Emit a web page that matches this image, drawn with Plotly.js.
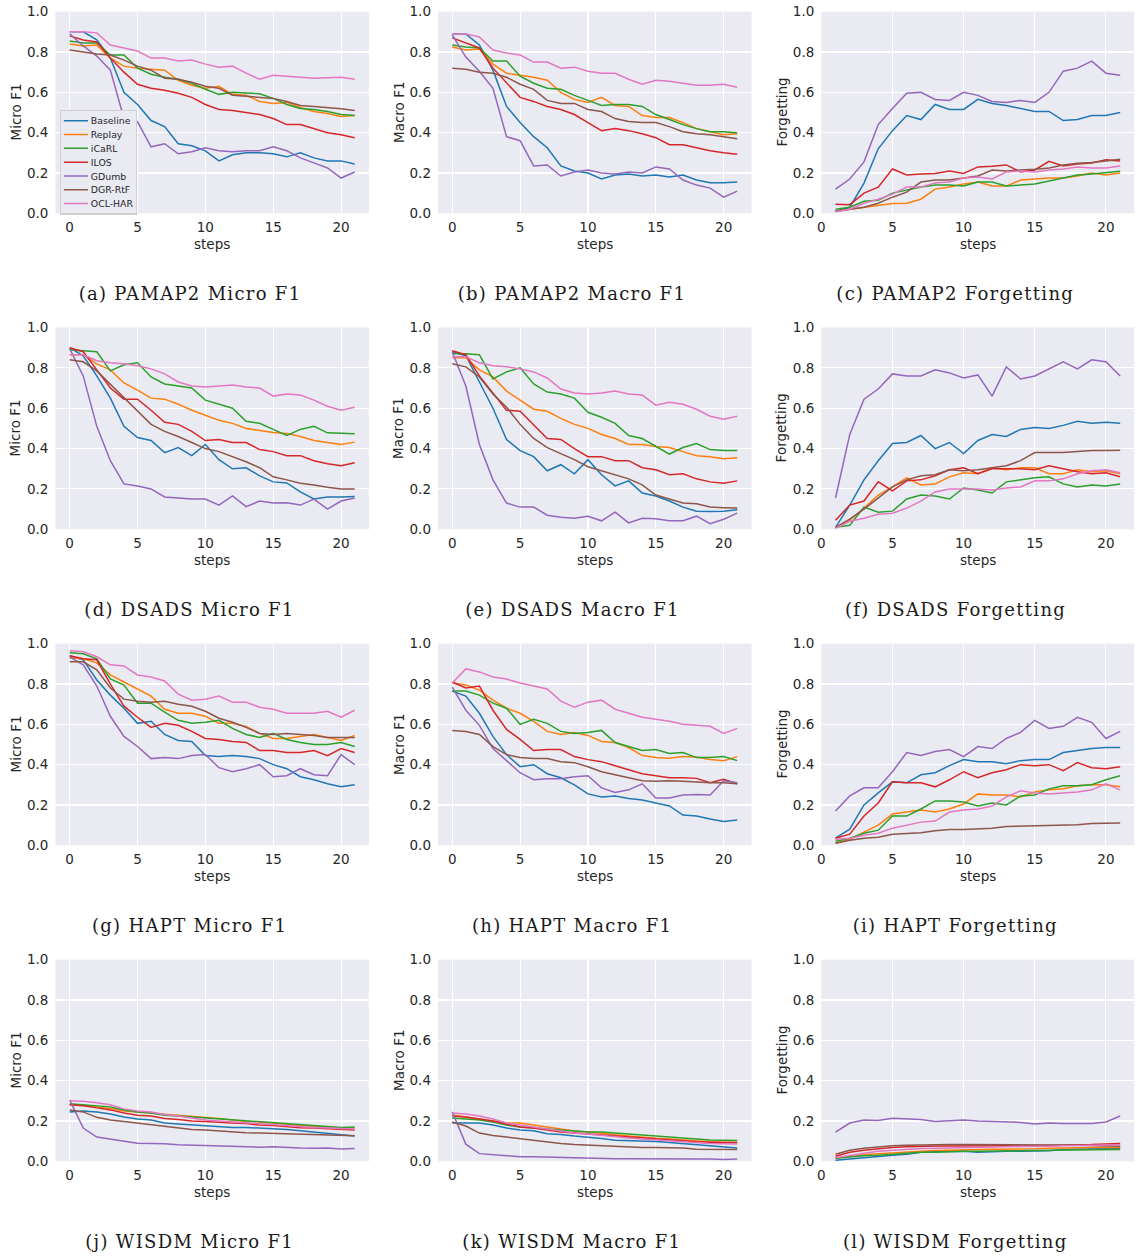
<!DOCTYPE html>
<html>
<head>
<meta charset="utf-8">
<script src="https://cdn.plot.ly/plotly-3.0.1.min.js"></script>
<style>html,body{margin:0;padding:0;background:#fff;}#chart{width:1137px;height:1259px;}</style>
</head>
<body>
<div id="chart"></div>
<script>
// ---------------- data ----------------
const methods = ['Baseline','Replay','iCaRL','ILOS','GDumb','DGR-RtF','OCL-HAR'];
const colors  = ['#1f77b4','#ff7f0e','#2ca02c','#d62728','#9467bd','#8c564b','#e377c2'];
const stepsF1 = [0,1,2,3,4,5,6,7,8,9,10,11,12,13,14,15,16,17,18,19,20,21];
const stepsForget = [1,2,3,4,5,6,7,8,9,10,11,12,13,14,15,16,17,18,19,20,21];
const yTicks = [0,0.2,0.4,0.6,0.8,1.0];
const xTicks = [0,5,10,15,20];
const yTitles = ['Micro F1','Macro F1','Forgetting'];
const captions = ['(a) PAMAP2 Micro F1','(b) PAMAP2 Macro F1','(c) PAMAP2 Forgetting',
                  '(d) DSADS Micro F1','(e) DSADS Macro F1','(f) DSADS Forgetting',
                  '(g) HAPT Micro F1','(h) HAPT Macro F1','(i) HAPT Forgetting',
                  '(j) WISDM Micro F1','(k) WISDM Macro F1','(l) WISDM Forgetting'];

// rows: Baseline, Replay, iCaRL, ILOS, GDumb, DGR-RtF, OCL-HAR
const PAMAP2_micro = [
 [0.90,0.90,0.86,0.77,0.60,0.54,0.46,0.43,0.345,0.335,0.31,0.26,0.29,0.30,0.30,0.295,0.28,0.30,0.275,0.26,0.26,0.245],
 [0.84,0.83,0.835,0.77,0.73,0.72,0.715,0.71,0.66,0.635,0.62,0.63,0.59,0.585,0.555,0.545,0.55,0.525,0.505,0.495,0.48,0.485],
 [0.855,0.845,0.845,0.785,0.785,0.72,0.69,0.675,0.665,0.645,0.615,0.59,0.60,0.598,0.593,0.57,0.54,0.52,0.515,0.505,0.49,0.485],
 [0.88,0.86,0.85,0.77,0.70,0.64,0.62,0.61,0.595,0.575,0.54,0.515,0.51,0.50,0.49,0.47,0.44,0.44,0.42,0.40,0.39,0.375],
 [0.89,0.83,0.78,0.71,0.47,0.455,0.33,0.345,0.295,0.305,0.325,0.31,0.305,0.31,0.31,0.33,0.31,0.275,0.25,0.225,0.175,0.205],
 [0.81,0.80,0.79,0.785,0.76,0.73,0.71,0.67,0.665,0.65,0.63,0.62,0.585,0.58,0.575,0.57,0.555,0.535,0.53,0.525,0.518,0.51],
 [0.90,0.90,0.895,0.835,0.82,0.805,0.77,0.77,0.755,0.76,0.74,0.725,0.73,0.695,0.665,0.685,0.68,0.675,0.67,0.672,0.675,0.665]
];
const PAMAP2_macro = [
 [0.89,0.89,0.835,0.71,0.53,0.45,0.38,0.325,0.235,0.21,0.20,0.17,0.19,0.195,0.185,0.19,0.18,0.19,0.165,0.152,0.152,0.155],
 [0.825,0.81,0.815,0.74,0.695,0.685,0.675,0.66,0.60,0.565,0.55,0.575,0.535,0.53,0.485,0.475,0.475,0.45,0.42,0.405,0.39,0.395],
 [0.835,0.825,0.82,0.755,0.755,0.68,0.645,0.62,0.615,0.585,0.56,0.535,0.54,0.54,0.53,0.49,0.465,0.44,0.42,0.405,0.405,0.398],
 [0.87,0.845,0.82,0.72,0.65,0.575,0.555,0.53,0.515,0.49,0.45,0.41,0.42,0.41,0.395,0.375,0.34,0.34,0.325,0.31,0.30,0.293],
 [0.885,0.775,0.705,0.62,0.38,0.36,0.235,0.24,0.185,0.205,0.215,0.20,0.195,0.205,0.20,0.23,0.22,0.165,0.14,0.125,0.08,0.11],
 [0.72,0.715,0.70,0.695,0.675,0.64,0.615,0.56,0.545,0.545,0.515,0.505,0.47,0.455,0.45,0.45,0.43,0.405,0.395,0.39,0.38,0.37],
 [0.89,0.89,0.875,0.81,0.795,0.785,0.75,0.75,0.72,0.725,0.705,0.695,0.695,0.665,0.64,0.66,0.655,0.645,0.635,0.635,0.64,0.625]
];
const PAMAP2_forget = [
 [0.01,0.03,0.15,0.32,0.41,0.485,0.465,0.54,0.515,0.515,0.565,0.545,0.535,0.52,0.505,0.505,0.46,0.465,0.485,0.485,0.50],
 [0.01,0.02,0.03,0.04,0.048,0.05,0.07,0.12,0.13,0.145,0.155,0.135,0.135,0.165,0.17,0.175,0.175,0.185,0.20,0.19,0.20],
 [0.02,0.03,0.06,0.065,0.10,0.115,0.13,0.14,0.14,0.135,0.155,0.155,0.135,0.14,0.145,0.16,0.175,0.19,0.195,0.20,0.208],
 [0.045,0.043,0.10,0.13,0.22,0.19,0.195,0.198,0.21,0.198,0.23,0.233,0.24,0.205,0.215,0.258,0.235,0.245,0.25,0.265,0.26],
 [0.12,0.17,0.255,0.44,0.52,0.595,0.60,0.565,0.56,0.60,0.585,0.555,0.55,0.56,0.55,0.60,0.705,0.72,0.755,0.695,0.685],
 [0.01,0.02,0.03,0.05,0.08,0.105,0.155,0.165,0.165,0.175,0.185,0.215,0.21,0.215,0.218,0.225,0.24,0.248,0.252,0.26,0.268],
 [0.008,0.02,0.05,0.07,0.095,0.13,0.13,0.15,0.155,0.175,0.18,0.17,0.205,0.21,0.205,0.215,0.22,0.23,0.225,0.225,0.235]
];
const DSADS_micro = [
 [0.90,0.86,0.76,0.65,0.51,0.455,0.44,0.38,0.405,0.365,0.42,0.345,0.30,0.305,0.265,0.235,0.23,0.185,0.15,0.16,0.16,0.162],
 [0.865,0.865,0.82,0.79,0.725,0.69,0.65,0.645,0.62,0.59,0.565,0.54,0.525,0.50,0.49,0.48,0.475,0.46,0.44,0.43,0.42,0.432],
 [0.89,0.885,0.88,0.785,0.815,0.825,0.755,0.72,0.71,0.70,0.64,0.62,0.60,0.535,0.525,0.495,0.465,0.495,0.51,0.478,0.475,0.474],
 [0.90,0.88,0.79,0.70,0.645,0.645,0.59,0.53,0.52,0.485,0.44,0.445,0.43,0.43,0.395,0.385,0.365,0.365,0.34,0.325,0.315,0.33],
 [0.895,0.76,0.51,0.34,0.225,0.215,0.20,0.16,0.155,0.15,0.15,0.12,0.165,0.112,0.14,0.13,0.132,0.12,0.15,0.10,0.14,0.155],
 [0.84,0.83,0.785,0.72,0.655,0.59,0.52,0.485,0.46,0.43,0.40,0.385,0.36,0.335,0.305,0.26,0.245,0.228,0.22,0.208,0.20,0.20],
 [0.865,0.865,0.835,0.825,0.82,0.81,0.795,0.77,0.73,0.71,0.705,0.71,0.715,0.705,0.70,0.66,0.67,0.665,0.64,0.61,0.59,0.605]
];
const DSADS_macro = [
 [0.88,0.86,0.73,0.60,0.445,0.39,0.36,0.29,0.32,0.275,0.345,0.27,0.215,0.24,0.18,0.165,0.14,0.11,0.09,0.088,0.09,0.097],
 [0.85,0.85,0.79,0.755,0.685,0.64,0.595,0.585,0.55,0.52,0.50,0.47,0.45,0.42,0.42,0.41,0.405,0.385,0.365,0.36,0.35,0.354],
 [0.87,0.87,0.865,0.745,0.78,0.80,0.72,0.68,0.67,0.65,0.58,0.555,0.525,0.465,0.45,0.41,0.373,0.405,0.425,0.395,0.39,0.39],
 [0.885,0.865,0.76,0.675,0.59,0.585,0.52,0.45,0.445,0.40,0.36,0.36,0.34,0.34,0.305,0.295,0.27,0.275,0.25,0.235,0.228,0.24],
 [0.88,0.71,0.42,0.245,0.13,0.11,0.11,0.07,0.06,0.055,0.065,0.042,0.085,0.032,0.055,0.052,0.042,0.042,0.065,0.028,0.05,0.08],
 [0.82,0.805,0.755,0.67,0.605,0.52,0.45,0.405,0.375,0.345,0.31,0.29,0.27,0.25,0.22,0.17,0.15,0.13,0.127,0.11,0.107,0.105],
 [0.855,0.855,0.825,0.81,0.805,0.795,0.78,0.75,0.695,0.675,0.67,0.675,0.685,0.67,0.665,0.615,0.63,0.62,0.595,0.56,0.545,0.56]
];
const DSADS_forget = [
 [0.01,0.12,0.245,0.34,0.425,0.43,0.465,0.40,0.43,0.375,0.44,0.47,0.46,0.495,0.505,0.50,0.515,0.535,0.525,0.53,0.525],
 [0.01,0.045,0.105,0.17,0.21,0.255,0.22,0.225,0.26,0.28,0.275,0.305,0.295,0.305,0.305,0.275,0.275,0.295,0.285,0.29,0.275],
 [0.01,0.02,0.11,0.085,0.09,0.15,0.17,0.165,0.15,0.205,0.195,0.18,0.235,0.245,0.255,0.26,0.225,0.21,0.22,0.215,0.225],
 [0.045,0.12,0.14,0.235,0.19,0.24,0.245,0.265,0.295,0.305,0.275,0.30,0.30,0.30,0.295,0.315,0.30,0.285,0.275,0.28,0.26],
 [0.155,0.47,0.645,0.695,0.77,0.76,0.76,0.79,0.775,0.75,0.765,0.66,0.805,0.745,0.76,0.795,0.83,0.795,0.84,0.83,0.76],
 [0.01,0.05,0.10,0.155,0.21,0.245,0.265,0.27,0.295,0.29,0.295,0.305,0.315,0.34,0.38,0.38,0.38,0.385,0.39,0.39,0.392],
 [0.005,0.04,0.055,0.075,0.08,0.105,0.14,0.185,0.20,0.20,0.20,0.195,0.205,0.21,0.24,0.24,0.25,0.275,0.29,0.295,0.28]
];
const HAPT_micro = [
 [0.94,0.92,0.82,0.745,0.68,0.605,0.615,0.55,0.52,0.515,0.445,0.44,0.445,0.44,0.43,0.40,0.38,0.34,0.325,0.305,0.29,0.30],
 [0.93,0.925,0.905,0.845,0.81,0.775,0.74,0.675,0.655,0.655,0.64,0.605,0.605,0.59,0.555,0.53,0.53,0.54,0.55,0.535,0.52,0.545],
 [0.955,0.95,0.925,0.825,0.795,0.705,0.705,0.66,0.62,0.605,0.61,0.62,0.58,0.55,0.535,0.555,0.525,0.51,0.50,0.50,0.51,0.49],
 [0.94,0.925,0.92,0.80,0.69,0.635,0.585,0.605,0.595,0.565,0.53,0.525,0.515,0.51,0.47,0.47,0.46,0.46,0.47,0.445,0.48,0.46],
 [0.935,0.895,0.79,0.64,0.54,0.49,0.43,0.435,0.43,0.445,0.45,0.385,0.365,0.38,0.40,0.34,0.345,0.38,0.35,0.345,0.45,0.40],
 [0.91,0.91,0.87,0.78,0.725,0.715,0.71,0.715,0.70,0.69,0.665,0.63,0.61,0.585,0.555,0.55,0.555,0.55,0.545,0.535,0.535,0.535],
 [0.965,0.96,0.935,0.895,0.89,0.845,0.835,0.815,0.75,0.72,0.725,0.74,0.71,0.71,0.685,0.675,0.655,0.655,0.655,0.665,0.635,0.67]
];
const HAPT_macro = [
 [0.765,0.74,0.655,0.54,0.45,0.39,0.40,0.355,0.335,0.30,0.255,0.24,0.245,0.232,0.225,0.21,0.195,0.15,0.145,0.13,0.118,0.125],
 [0.805,0.795,0.77,0.72,0.68,0.655,0.615,0.565,0.55,0.56,0.545,0.515,0.51,0.485,0.445,0.435,0.432,0.44,0.438,0.425,0.42,0.44],
 [0.765,0.765,0.745,0.705,0.68,0.60,0.625,0.605,0.565,0.555,0.56,0.57,0.51,0.49,0.47,0.475,0.455,0.46,0.435,0.435,0.44,0.42],
 [0.81,0.78,0.79,0.67,0.575,0.525,0.47,0.475,0.475,0.44,0.425,0.415,0.395,0.375,0.355,0.345,0.335,0.335,0.332,0.31,0.328,0.305],
 [0.785,0.67,0.595,0.48,0.42,0.36,0.325,0.33,0.33,0.34,0.345,0.285,0.262,0.275,0.305,0.235,0.235,0.25,0.252,0.25,0.32,0.31],
 [0.57,0.565,0.55,0.49,0.45,0.435,0.43,0.43,0.415,0.41,0.39,0.365,0.35,0.335,0.32,0.318,0.32,0.318,0.313,0.31,0.31,0.305],
 [0.805,0.875,0.86,0.835,0.825,0.805,0.79,0.775,0.715,0.685,0.71,0.72,0.675,0.655,0.635,0.625,0.615,0.60,0.595,0.59,0.555,0.58]
];
const HAPT_forget = [
 [0.035,0.08,0.20,0.26,0.315,0.31,0.35,0.36,0.395,0.425,0.415,0.415,0.405,0.42,0.425,0.425,0.46,0.47,0.48,0.485,0.485],
 [0.01,0.03,0.065,0.10,0.155,0.165,0.175,0.165,0.18,0.205,0.255,0.25,0.25,0.24,0.265,0.275,0.28,0.295,0.30,0.30,0.29],
 [0.02,0.035,0.06,0.075,0.145,0.145,0.18,0.22,0.22,0.215,0.195,0.21,0.20,0.245,0.25,0.28,0.295,0.295,0.30,0.325,0.345],
 [0.035,0.055,0.145,0.21,0.315,0.31,0.31,0.29,0.325,0.365,0.335,0.36,0.375,0.40,0.395,0.40,0.37,0.41,0.385,0.38,0.39],
 [0.17,0.245,0.285,0.285,0.365,0.46,0.445,0.465,0.475,0.44,0.49,0.48,0.53,0.56,0.62,0.58,0.59,0.635,0.61,0.53,0.565],
 [0.01,0.025,0.035,0.04,0.055,0.06,0.062,0.072,0.078,0.078,0.082,0.085,0.093,0.095,0.097,0.096,0.10,0.102,0.108,0.108,0.11],
 [0.03,0.035,0.05,0.06,0.085,0.10,0.115,0.12,0.165,0.175,0.18,0.195,0.24,0.27,0.26,0.255,0.26,0.265,0.275,0.305,0.275]
];
const WISDM_micro = [
 [0.245,0.25,0.245,0.235,0.22,0.21,0.205,0.19,0.185,0.18,0.178,0.172,0.168,0.168,0.165,0.162,0.158,0.152,0.145,0.14,0.132,0.125],
 [0.28,0.278,0.27,0.262,0.25,0.245,0.24,0.235,0.228,0.222,0.218,0.212,0.205,0.198,0.195,0.188,0.182,0.177,0.172,0.168,0.165,0.165],
 [0.285,0.28,0.275,0.27,0.255,0.245,0.24,0.228,0.225,0.22,0.215,0.21,0.208,0.20,0.198,0.192,0.185,0.18,0.175,0.172,0.168,0.17],
 [0.28,0.275,0.265,0.255,0.24,0.228,0.225,0.212,0.207,0.20,0.198,0.193,0.19,0.187,0.18,0.178,0.172,0.167,0.165,0.162,0.158,0.155],
 [0.305,0.165,0.12,0.11,0.103,0.09,0.088,0.087,0.082,0.08,0.078,0.075,0.073,0.072,0.07,0.072,0.068,0.066,0.065,0.066,0.061,0.063],
 [0.255,0.245,0.218,0.205,0.198,0.19,0.182,0.172,0.165,0.158,0.155,0.15,0.145,0.142,0.14,0.138,0.136,0.137,0.133,0.13,0.128,0.127],
 [0.30,0.298,0.29,0.28,0.26,0.25,0.245,0.232,0.225,0.215,0.205,0.20,0.195,0.19,0.185,0.18,0.175,0.17,0.168,0.165,0.162,0.16]
];
const WISDM_macro = [
 [0.19,0.19,0.19,0.18,0.165,0.155,0.152,0.137,0.133,0.125,0.12,0.113,0.105,0.103,0.10,0.098,0.093,0.088,0.083,0.076,0.07,0.066],
 [0.23,0.22,0.21,0.20,0.19,0.19,0.18,0.17,0.16,0.15,0.145,0.14,0.132,0.125,0.118,0.114,0.11,0.105,0.10,0.097,0.095,0.095],
 [0.215,0.21,0.205,0.195,0.18,0.17,0.165,0.16,0.155,0.148,0.145,0.145,0.14,0.132,0.13,0.125,0.118,0.115,0.11,0.106,0.104,0.103],
 [0.225,0.22,0.21,0.20,0.185,0.17,0.165,0.155,0.145,0.14,0.135,0.13,0.125,0.12,0.115,0.11,0.105,0.10,0.097,0.095,0.093,0.092],
 [0.245,0.085,0.038,0.032,0.028,0.023,0.022,0.02,0.019,0.018,0.016,0.014,0.013,0.013,0.012,0.013,0.012,0.011,0.011,0.012,0.009,0.012],
 [0.195,0.175,0.14,0.128,0.12,0.112,0.103,0.095,0.088,0.083,0.08,0.077,0.073,0.071,0.069,0.068,0.066,0.066,0.06,0.059,0.058,0.058],
 [0.24,0.235,0.225,0.21,0.19,0.18,0.172,0.16,0.15,0.14,0.135,0.128,0.12,0.115,0.11,0.105,0.10,0.095,0.09,0.088,0.087,0.086]
];
const WISDM_forget = [
 [0.005,0.012,0.018,0.023,0.03,0.035,0.045,0.048,0.05,0.05,0.045,0.048,0.05,0.05,0.052,0.052,0.058,0.06,0.062,0.065,0.065],
 [0.015,0.025,0.032,0.038,0.043,0.047,0.05,0.053,0.055,0.058,0.058,0.06,0.06,0.06,0.062,0.065,0.067,0.068,0.07,0.07,0.068],
 [0.015,0.022,0.027,0.03,0.035,0.038,0.045,0.045,0.048,0.05,0.05,0.05,0.05,0.052,0.053,0.055,0.056,0.057,0.058,0.058,0.058],
 [0.025,0.045,0.055,0.063,0.068,0.072,0.075,0.076,0.076,0.077,0.077,0.077,0.077,0.076,0.077,0.078,0.08,0.082,0.083,0.086,0.088],
 [0.145,0.19,0.205,0.203,0.213,0.21,0.207,0.198,0.20,0.205,0.20,0.198,0.195,0.193,0.185,0.19,0.188,0.187,0.188,0.195,0.225],
 [0.035,0.055,0.065,0.072,0.077,0.08,0.082,0.083,0.083,0.083,0.083,0.083,0.083,0.082,0.08,0.08,0.08,0.08,0.078,0.076,0.075],
 [0.018,0.03,0.04,0.05,0.055,0.06,0.063,0.065,0.067,0.068,0.07,0.07,0.072,0.073,0.073,0.075,0.077,0.079,0.08,0.08,0.082]
];

const panels = [PAMAP2_micro, PAMAP2_macro, PAMAP2_forget,
                DSADS_micro, DSADS_macro, DSADS_forget,
                HAPT_micro, HAPT_macro, HAPT_forget,
                WISDM_micro, WISDM_macro, WISDM_forget];

// ---------------- layout geometry (px) ----------------
const W = 1137, H = 1259;
const colL = [55.4, 438.0, 821.3], colR = [368.9, 751.5, 1134.4];
const rowT = [11.7, 327.5, 643.7, 959.7], rowB = [213.3, 529.3, 845.3, 1161.3];
const ylabX = [15, 398.5, 781];
const capX = [189.5, 572, 955];
const tickFont = {family: 'DejaVu Sans, sans-serif', size: 13.5, color: '#262626'};
const LEG_SCALE = 0.55;

const traces = [];
const layout = {
  width: W, height: H,
  margin: {l: 0, r: 0, t: 0, b: 0},
  paper_bgcolor: '#ffffff',
  plot_bgcolor: '#EAEAF2',
  showlegend: true,
  legend: {
    x: 60 / W, y: 1 - 110 / H, xanchor: 'left', yanchor: 'top',
    bgcolor: '#EAEAF2', bordercolor: '#d0d0d0', borderwidth: 2,
    font: {family: 'DejaVu Sans, sans-serif', size: 17, color: '#262626'},
    tracegroupgap: 0, itemwidth: 44
  },
  annotations: [],
  font: tickFont
};

panels.forEach((panel, p) => {
  const r = Math.floor(p / 3), c = p % 3;
  const n = p + 1;
  const sfx = (n === 1 ? '' : String(n));
  const xs = (c === 2) ? stepsForget : stepsF1;
  layout['xaxis' + sfx] = {
    domain: [colL[c] / W, colR[c] / W],
    anchor: 'y' + sfx,
    range: c === 2 ? [0, 22] : [-1.05, 22.05],
    tickvals: xTicks, ticktext: xTicks.map(String),
    showgrid: true, gridcolor: '#ffffff', gridwidth: 1.1,
    zeroline: false, showline: false, ticks: '',
    tickfont: tickFont, ticklabelstandoff: 4
  };
  layout['yaxis' + sfx] = {
    domain: [1 - rowB[r] / H, 1 - rowT[r] / H],
    anchor: 'x' + sfx,
    range: [0, 1],
    tickvals: yTicks, ticktext: yTicks.map(v => v.toFixed(1)),
    showgrid: true, gridcolor: '#ffffff', gridwidth: 1.1,
    zeroline: false, showline: false, ticks: '',
    tickfont: tickFont, ticklabelstandoff: 6
  };
  panel.forEach((vals, m) => {
    traces.push({
      type: 'scatter', mode: 'lines',
      x: xs, y: vals,
      name: methods[m],
      line: {color: colors[m], width: 1.5},
      xaxis: 'x' + sfx, yaxis: 'y' + sfx,
      showlegend: p === 0,
      hoverinfo: 'skip'
    });
  });
  layout.annotations.push({
    xref: 'paper', yref: 'paper',
    x: ylabX[c] / W, y: 1 - ((rowT[r] + rowB[r]) / 2) / H,
    xanchor: 'center', yanchor: 'middle', textangle: -90,
    text: yTitles[c], showarrow: false,
    font: {family: 'DejaVu Sans, sans-serif', size: 13.5, color: '#262626'}
  });
  layout.annotations.push({
    xref: 'paper', yref: 'paper',
    x: ((colL[c] + colR[c]) / 2) / W, y: 1 - (rowB[r] + 30.5) / H,
    xanchor: 'center', yanchor: 'middle',
    text: 'steps', showarrow: false,
    font: {family: 'DejaVu Sans, sans-serif', size: 13.5, color: '#262626'}
  });
  layout.annotations.push({
    xref: 'paper', yref: 'paper',
    x: capX[c] / W, y: 1 - (rowB[r] + 80) / H,
    xanchor: 'center', yanchor: 'middle',
    text: captions[p], showarrow: false,
    font: {family: 'DejaVu Serif, serif', size: 18, color: '#1a1a1a'}
  });
});

Plotly.newPlot('chart', traces, layout, {displayModeBar: false, staticPlot: true}).then(() => {
  const lg = document.querySelector('.legend');
  if (lg) {
    const t = lg.getAttribute('transform') || '';
    lg.setAttribute('transform', t + ' scale(' + LEG_SCALE + ')');
    lg.querySelectorAll('.legendlines path').forEach(el => {
      el.style.strokeWidth = (1.5 / LEG_SCALE) + 'px';
    });
  }
  document.querySelectorAll('.annotation-text').forEach(el => {
    if (/^\([a-l]\)/.test(el.textContent)) el.style.letterSpacing = '1.3px';
  });
});
</script>
</body>
</html>
